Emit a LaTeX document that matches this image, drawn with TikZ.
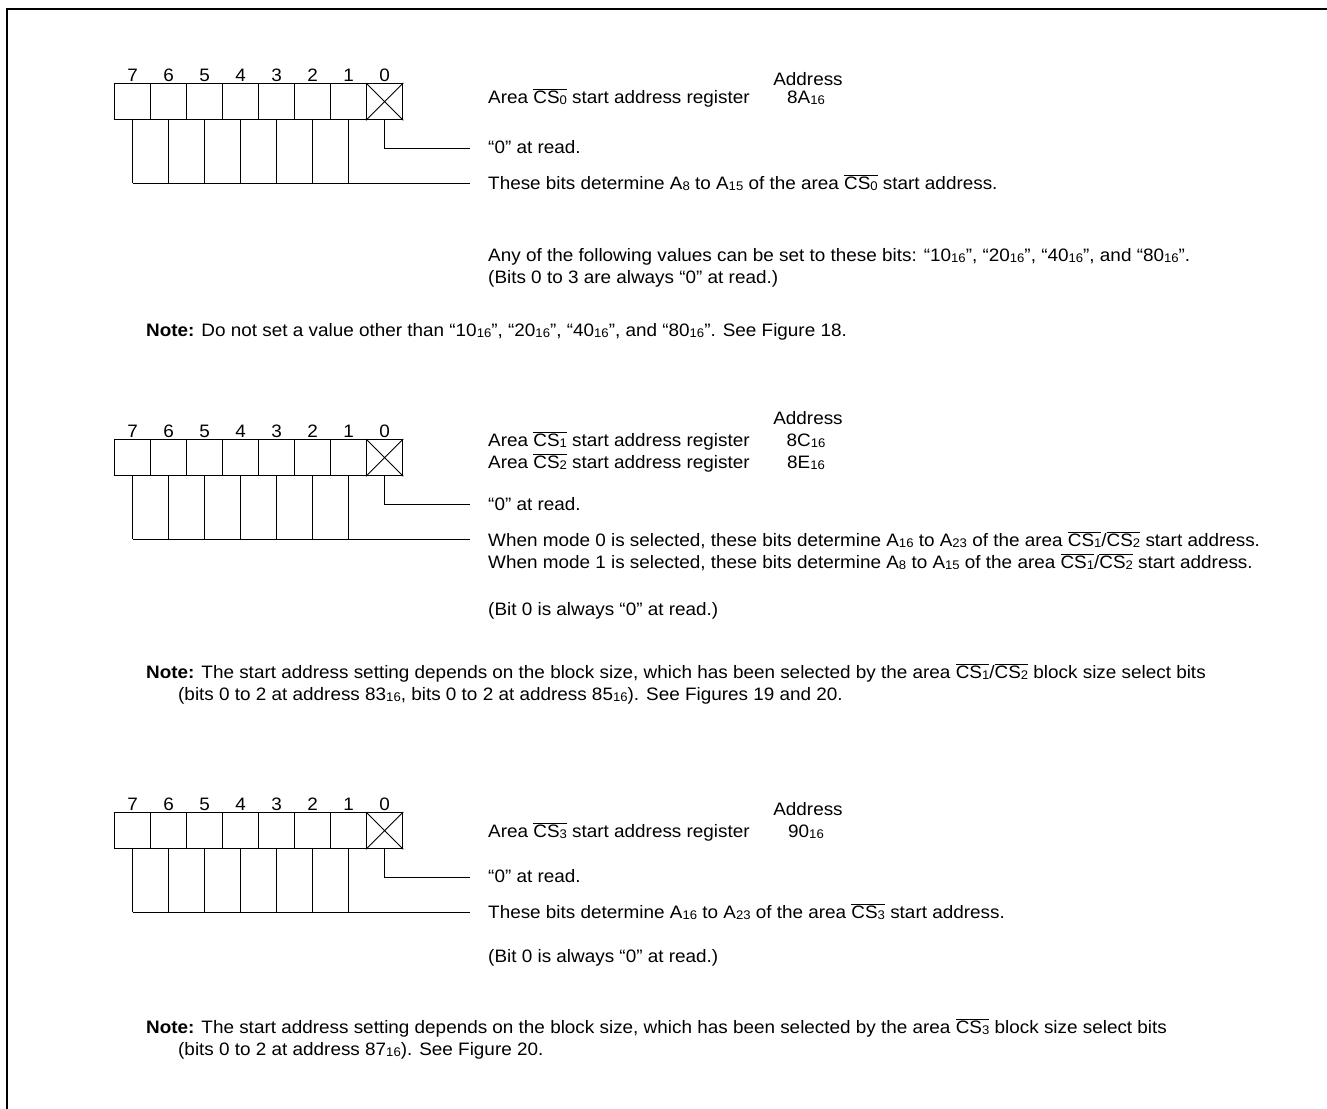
\documentclass[tikz,border=0pt]{standalone}
\usepackage{fontspec}
\setmainfont{Liberation Sans}[FakeStretch=1.05]
\usepackage{tikz}

\newcommand\lowsub[1]{\raisebox{-.15ex}{\fontsize{12.5}{13}\selectfont #1}}
\newcommand\csbar[1]{$\overline{\mbox{CS\lowsub{#1}}}$}

\begin{document}
\begin{tikzpicture}[x=1pt,y=-1pt,line join=miter,
  every node/.style={inner sep=0pt,font=\fontsize{18}{22}\selectfont},
  bitcell/.style={draw,line width=1.3pt,minimum size=36pt,anchor=north west},
  lead/.style={line width=.9pt},
  txt/.style={anchor=base west}]
  \useasboundingbox (0,0) rectangle (1327,1108);
  \draw[line width=2.2pt] (7,1120) -- (7,9) -- (1340,9);
  \foreach \reg/\yb in {a/83,b/439,c/812}{
    \foreach \i in {0,...,7}{
      \node[bitcell] (\reg\i) at ({114+36*(7-\i)},\yb) {};
      \node[anchor=base] (\reg n\i) at ([yshift=1.5pt]\reg\i.north) {\i};
    }
    \coordinate (\reg z) at (470,\yb+65);
    \coordinate (\reg w) at (470,\yb+100);
    \draw[lead] (\reg0.north west) -- (\reg0.south east)
                (\reg0.south west) -- (\reg0.north east);
    \draw[lead] (\reg0.south) |- (\reg z);
    \foreach \i in {1,...,7}
      \draw[lead] (\reg\i.south) -- (\reg\i.south |- \reg w);
    \draw[lead] (\reg7.south |- \reg w) -- (\reg w);
  }
  % area CS0
  \node[anchor=base] (adra) at (808,85) {Address};
  \node[txt] (nma) at (488,103) {Area \csbar{0} start address register};
  \node[anchor=base] (vala) at (806,103) {8A\lowsub{16}};
  \node[txt] (rda) at (488,153) {“0” at read.};
  \node[txt] (bta) at (488,189)
    {These bits determine A\lowsub{8} to A\lowsub{15} of the area \csbar{0} start address.};
  \node[txt,align=left] (vla) at (488,283)
    {Any of the following values can be set to these bits: “10\lowsub{16}”, “20\lowsub{16}”, “40\lowsub{16}”, and “80\lowsub{16}”.\\
     (Bits 0 to 3 are always “0” at read.)};
  \node[txt] (nta) at (146,336)
    {\textbf{Note:} Do not set a value other than “10\lowsub{16}”, “20\lowsub{16}”, “40\lowsub{16}”, and “80\lowsub{16}”. See Figure 18.};
  % area CS1/CS2
  \node[anchor=base] (adrb) at (808,424) {Address};
  \node[txt] (nmb) at (488,446) {Area \csbar{1} start address register};
  \node[anchor=base] (valb) at (806,446) {8C\lowsub{16}};
  \node[txt] (nmbb) at (488,468) {Area \csbar{2} start address register};
  \node[anchor=base] (valbb) at (806,468) {8E\lowsub{16}};
  \node[txt] (rdb) at (488,510) {“0” at read.};
  \node[txt,align=left] (btb) at (488,568)
    {When mode 0 is selected, these bits determine A\lowsub{16} to A\lowsub{23} of the area \csbar{1}/\csbar{2} start address.\\
     When mode 1 is selected, these bits determine A\lowsub{8} to A\lowsub{15} of the area \csbar{1}/\csbar{2} start address.};
  \node[txt] (vlb) at (488,615) {(Bit 0 is always “0” at read.)};
  \node[txt,align=left] (ntb) at (146,700)
    {\textbf{Note:} The start address setting depends on the block size, which has been selected by the area \csbar{1}/\csbar{2} block size select bits\\
     \hspace*{32pt}(bits 0 to 2 at address 83\lowsub{16}, bits 0 to 2 at address 85\lowsub{16}). See Figures 19 and 20.};
  % area CS3
  \node[anchor=base] (adrc) at (808,815) {Address};
  \node[txt] (nmc) at (488,837) {Area \csbar{3} start address register};
  \node[anchor=base] (valc) at (806,837) {90\lowsub{16}};
  \node[txt] (rdc) at (488,882) {“0” at read.};
  \node[txt] (btc) at (488,918)
    {These bits determine A\lowsub{16} to A\lowsub{23} of the area \csbar{3} start address.};
  \node[txt] (vlc) at (488,962) {(Bit 0 is always “0” at read.)};
  \node[txt,align=left] (ntc) at (146,1055)
    {\textbf{Note:} The start address setting depends on the block size, which has been selected by the area \csbar{3} block size select bits\\
     \hspace*{32pt}(bits 0 to 2 at address 87\lowsub{16}). See Figure 20.};
\end{tikzpicture}
\end{document}
